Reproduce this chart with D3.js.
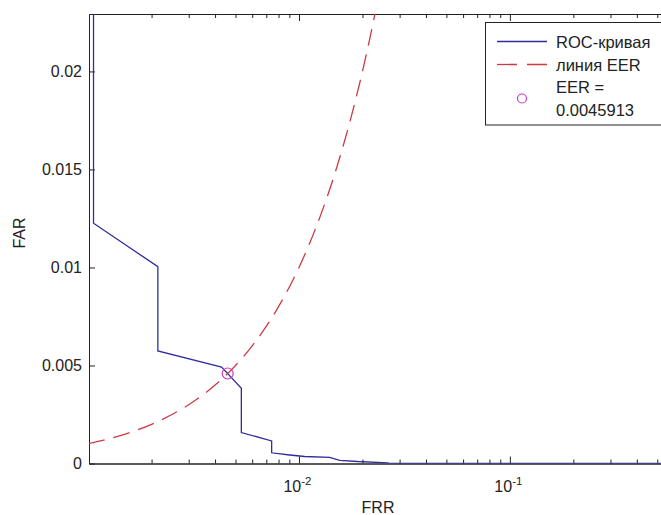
<!DOCTYPE html>
<html>
<head>
<meta charset="utf-8">
<script src="https://cdn.jsdelivr.net/npm/d3@7"></script>
<style>
  body { margin: 0; background: #fff; }
  svg { display: block; font-family: "Liberation Sans", Arial, sans-serif; }
</style>
</head>
<body>
<div id="chart"></div>
<script>
// ROC curve (FRR on a log axis, FAR linear)
var rocFRR = [0.001061, 0.001061, 0.002142, 0.002142, 0.004296, 0.005329, 0.005329, 0.007421, 0.007421,
  0.009035, 0.01064, 0.01398, 0.01560, 0.01900, 0.02636, 0.0270, 0.556];
var rocFAR = [0.05, 0.01226, 0.01004, 0.00574, 0.00492, 0.00384, 0.00158, 0.00115, 0.000546,
  0.000434, 0.000357, 0.000316, 0.000163, 0.000102, 0.0000357, 0, 0];

// EER line (FAR = FRR)
var eerFRR = [0.001, 0.0015, 0.002, 0.003, 0.004, 0.005, 0.006, 0.008, 0.01, 0.012, 0.015, 0.018, 0.021, 0.024];
var eerFAR = [0.001, 0.0015, 0.002, 0.003, 0.004, 0.005, 0.006, 0.008, 0.01, 0.012, 0.015, 0.018, 0.021, 0.024];

var eerValue = 0.0045913;

// axis limits and ticks
var xLimits = [0.00101, 0.556];
var yLimits = [0, 0.02293];
var yTicks = [0, 0.005, 0.01, 0.015, 0.02];
var yTickLabels = ["0", "0.005", "0.01", "0.015", "0.02"];
var xMajorTicks = [0.01, 0.1];
var xMajorExponents = ["-2", "-1"];

var legendLabels = ["ROC-кривая", "линия EER", "EER =", String(eerValue)];

var svgWidth = 661;
var svgHeight = 515;

var margin = { top: 14, left: 89 };
var width = 578;
var height = 449.5;

var blue = "#2e2e9e";
var red = "#cc3a44";
var magenta = "#c63cc6";
var axisColor = "#222";

var svg = d3.select("#chart")
  .append("svg")
  .attr("width", svgWidth)
  .attr("height", svgHeight);

svg.append("defs").append("clipPath")
  .attr("id", "plot-clip")
  .append("rect")
  .attr("width", width)
  .attr("height", height);

var chartGroup = svg.append("g")
  .attr("transform", `translate(${margin.left}, ${margin.top})`);

// Scales
var xLogScale = d3.scaleLog().domain(xLimits).range([0, width]);
var yLinearScale = d3.scaleLinear().domain(yLimits).range([height, 0]);

var xMinorTicks = xLogScale.ticks().filter(function(t) {
  return xMajorTicks.indexOf(t) < 0;
});

function styleAxis(g) {
  g.selectAll("path, line").attr("stroke", axisColor);
  g.attr("font-size", 16).attr("font-family", null);
  g.selectAll("text").attr("fill", axisColor);
}

// Bottom and top axes: major + minor ticks pointing inwards
chartGroup.append("g")
  .attr("transform", `translate(0, ${height})`)
  .call(d3.axisBottom(xLogScale).tickValues(xMajorTicks).tickSize(-7).tickSizeOuter(0).tickFormat(""))
  .call(styleAxis);
chartGroup.append("g")
  .attr("transform", `translate(0, ${height})`)
  .call(d3.axisBottom(xLogScale).tickValues(xMinorTicks).tickSize(-4).tickSizeOuter(0).tickFormat(""))
  .call(styleAxis);
chartGroup.append("g")
  .call(d3.axisTop(xLogScale).tickValues(xMajorTicks).tickSize(-7).tickSizeOuter(0).tickFormat(""))
  .call(styleAxis);
chartGroup.append("g")
  .call(d3.axisTop(xLogScale).tickValues(xMinorTicks).tickSize(-4).tickSizeOuter(0).tickFormat(""))
  .call(styleAxis);

// Left and right axes
chartGroup.append("g")
  .call(d3.axisLeft(yLinearScale).tickValues(yTicks).tickSize(-6).tickSizeOuter(0).tickPadding(7)
    .tickFormat(function(d, i) { return yTickLabels[i]; }))
  .call(styleAxis);
chartGroup.append("g")
  .attr("transform", `translate(${width}, 0)`)
  .call(d3.axisRight(yLinearScale).tickValues(yTicks).tickSize(-6).tickSizeOuter(0).tickFormat(""))
  .call(styleAxis);

// x tick labels 10^n
var xLabels = chartGroup.append("g")
  .selectAll("text")
  .data(xMajorTicks)
  .enter()
  .append("text")
  .attr("x", d => xLogScale(d) - 1.5)
  .attr("y", height + 28)
  .attr("text-anchor", "middle")
  .attr("fill", axisColor)
  .attr("font-size", 16);
xLabels.append("tspan").text("10");
xLabels.append("tspan")
  .attr("dy", -7)
  .attr("font-size", 11.5)
  .text((d, i) => xMajorExponents[i]);

// Curves
var plot = chartGroup.append("g").attr("clip-path", "url(#plot-clip)");

var rocLine = d3.line()
  .x((d, i) => xLogScale(rocFRR[i]))
  .y((d, i) => yLinearScale(rocFAR[i]));

plot.append("path")
  .datum(rocFRR)
  .attr("d", rocLine)
  .attr("fill", "none")
  .attr("stroke", blue)
  .attr("stroke-width", 1.3);

var eerLine = d3.line()
  .x((d, i) => xLogScale(eerFRR[i]))
  .y((d, i) => yLinearScale(eerFAR[i]))
  .curve(d3.curveMonotoneX);

plot.append("path")
  .datum(eerFRR)
  .attr("d", eerLine)
  .attr("fill", "none")
  .attr("stroke", red)
  .attr("stroke-width", 1.3)
  .attr("stroke-dasharray", "17,9");

plot.append("circle")
  .attr("cx", xLogScale(eerValue))
  .attr("cy", yLinearScale(eerValue))
  .attr("r", 5.5)
  .attr("fill", "none")
  .attr("stroke", magenta)
  .attr("stroke-width", 1.2);

// Axis titles
chartGroup.append("text")
  .attr("x", 378 - margin.left)
  .attr("y", height + 49)
  .attr("text-anchor", "middle")
  .attr("font-size", 16)
  .attr("fill", axisColor)
  .text("FRR");

svg.append("text")
  .attr("transform", "translate(25, 233) rotate(-90)")
  .attr("text-anchor", "middle")
  .attr("font-size", 16)
  .attr("fill", axisColor)
  .text("FAR");

// Legend
var legend = svg.append("g").attr("transform", "translate(485, 22.5)");

legend.append("rect")
  .attr("x", 0.5)
  .attr("y", 0)
  .attr("width", 185)
  .attr("height", 102.5)
  .attr("fill", "#fff")
  .attr("stroke", axisColor);

legend.append("line")
  .attr("x1", 12).attr("x2", 62)
  .attr("y1", 19).attr("y2", 19)
  .attr("stroke", blue).attr("stroke-width", 1.3);

legend.append("line")
  .attr("x1", 12).attr("x2", 62)
  .attr("y1", 42).attr("y2", 42)
  .attr("stroke", red).attr("stroke-width", 1.3)
  .attr("stroke-dasharray", "20,10");

legend.append("circle")
  .attr("cx", 37).attr("cy", 76)
  .attr("r", 4.5)
  .attr("fill", "none")
  .attr("stroke", magenta).attr("stroke-width", 1.2);

legend.selectAll("text.lab")
  .data(legendLabels)
  .enter()
  .append("text")
  .attr("class", "lab")
  .attr("x", 71)
  .attr("y", (d, i) => [25, 48, 70, 93][i])
  .attr("font-size", 16.5)
  .attr("fill", axisColor)
  .text(d => d);
</script>
</body>
</html>
